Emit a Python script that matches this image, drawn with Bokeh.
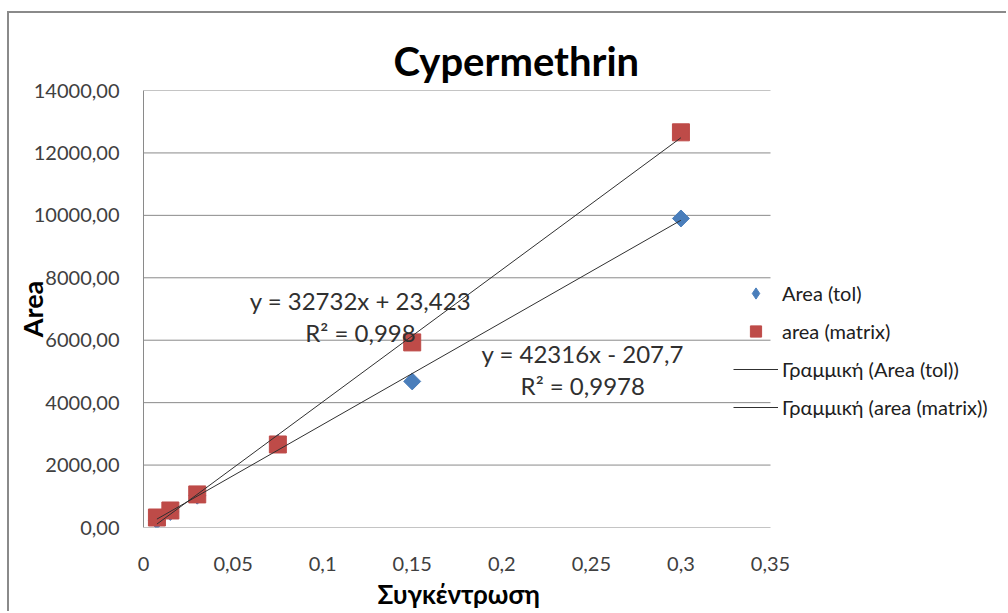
from bokeh.plotting import figure
from bokeh.models import (FixedTicker, Label, Legend, LegendItem, Range1d, Title)
from bokeh.embed import file_html
from bokeh.resources import INLINE
import math

# ---- data ----
concentration = [0.0075, 0.015, 0.03, 0.075, 0.15, 0.3]
area_tol = [230, 500, 1020, 2700, 4680, 9900]
area_matrix = [320, 545, 1060, 2660, 5930, 12660]

fit_tol = (32732, 23.423)
fit_matrix = (42316, -207.7)

x_ticks = [0, 0.05, 0.1, 0.15, 0.2, 0.25, 0.3, 0.35]
x_tick_labels = ["0", "0,05", "0,1", "0,15", "0,2", "0,25", "0,3", "0,35"]
y_ticks = [0, 2000, 4000, 6000, 8000, 10000, 12000, 14000]
y_tick_labels = ["0,00", "2000,00", "4000,00", "6000,00", "8000,00",
                 "10000,00", "12000,00", "14000,00"]

title_text = "Cypermethrin"
x_label = "Συγκέντρωση"
y_label = "Area"
eq_tol = ["y = 32732x + 23,423", "R² = 0,998"]
eq_matrix = ["y = 42316x - 207,7", "R² = 0,9978"]
legend_labels = ["Area (tol)", "area (matrix)",
                 "Γραμμική (Area (tol))", "Γραμμική (area (matrix))"]

FONT = "Lato"
MX, MY = 7, 11           # outer chart border offset in the picture
W, H = 1008 - MX - 2, 613 - MY - 2
ox, oy = MX + 2, MY + 2  # figure content origin in the picture
FL, FR, FT, FB = 143, 770, 90, 527   # plot-area edges in the picture
X_MAX = 0.35
frame_w = (ox + W) - FL
x_end = X_MAX * frame_w / (FR - FL)   # frame runs on to the right edge for the legend

p = figure(width=W, height=H, output_backend="svg", toolbar_location=None,
           x_range=Range1d(0, x_end), y_range=Range1d(0, 14000),
           min_border_left=FL - ox, min_border_top=FT - oy,
           min_border_right=0, min_border_bottom=(oy + H) - FB)
p.styles = {"border-left": "2px solid #8a8a8a", "border-top": "2px solid #8a8a8a",
            "margin-left": f"{MX}px", "margin-top": f"{MY}px"}
p.outline_line_color = None
p.background_fill_color = "white"
p.border_fill_color = "white"

# title
p.title.text = title_text
p.title.align = "left"
p.title.offset = 393 - FL
p.title.text_font = FONT
p.title.text_font_size = "40px"
p.title.text_font_style = "bold"
p.title.text_color = "black"
p.title.standoff = 12

# axes
for ax in (p.xaxis[0], p.yaxis[0]):
    ax.major_tick_line_color = None
    ax.minor_tick_line_color = None
    ax.major_label_text_font = FONT
    ax.major_label_text_font_size = "20px"
    ax.major_label_text_color = "#404040"
p.xaxis[0].axis_line_color = None
p.yaxis[0].axis_line_color = "#8a8a8a"
p.xaxis[0].ticker = FixedTicker(ticks=x_ticks)
p.xaxis[0].major_label_overrides = {t: l for t, l in zip(x_ticks, x_tick_labels)}
p.xaxis[0].major_label_standoff = 23
p.yaxis[0].ticker = FixedTicker(ticks=y_ticks)
p.yaxis[0].major_label_overrides = {t: l for t, l in zip(y_ticks, y_tick_labels)}
p.yaxis[0].major_label_standoff = 18
p.yaxis[0].axis_label = y_label
p.yaxis[0].axis_label_text_font = FONT
p.yaxis[0].axis_label_text_font_size = "27px"
p.yaxis[0].axis_label_text_font_style = "bold"
p.yaxis[0].axis_label_text_color = "black"
p.yaxis[0].axis_label_standoff = -18

p.add_layout(Title(text=x_label, align="left", offset=377 - FL, text_font=FONT,
                   text_font_size="26px", text_font_style="bold", text_color="black",
                   standoff=5), "below")

# grid lines limited to the plot area
p.xgrid.visible = False
p.ygrid.visible = False
p.segment(x0=[0] * len(y_ticks), x1=[X_MAX] * len(y_ticks), y0=y_ticks, y1=y_ticks,
          line_color="#8a8a8a", line_width=1)

# markers
r_tol = p.scatter(concentration, area_tol, marker="square", angle=math.pi / 4,
                  size=12, fill_color="#4a7ebb", line_color="#4a7ebb")
r_mat = p.scatter(concentration, area_matrix, marker="square", size=17,
                  fill_color="#be4b48", line_color="#be4b48")
# legend-only diamond for the tol series (hidden in the plot)
r_tol_leg = p.scatter(concentration, area_tol, marker="diamond", size=12,
                      fill_color="#4a7ebb", line_color="#4a7ebb", visible=False)

# trendlines
x0, x1 = min(concentration), max(concentration)
l_tol = p.line([x0, x1], [fit_tol[0] * x0 + fit_tol[1], fit_tol[0] * x1 + fit_tol[1]],
               line_color="#303030", line_width=1)
l_mat = p.line([x0, x1], [fit_matrix[0] * x0 + fit_matrix[1], fit_matrix[0] * x1 + fit_matrix[1]],
               line_color="#303030", line_width=1)

legend = Legend(items=[LegendItem(label=legend_labels[0], renderers=[r_tol_leg]),
                       LegendItem(label=legend_labels[1], renderers=[r_mat]),
                       LegendItem(label=legend_labels[2], renderers=[l_tol]),
                       LegendItem(label=legend_labels[3], renderers=[l_mat])],
                location=(733 - FL, FB - 421), glyph_width=45, glyph_height=28,
                label_height=28, spacing=10, label_standoff=4, padding=0, margin=0,
                border_line_color=None, background_fill_alpha=0,
                label_text_font=FONT, label_text_font_size="20px",
                label_text_color="#202020")
p.add_layout(legend, "center")


def lab(x, y, text, size, color="#303030"):
    p.add_layout(Label(x=x, y=y, text=text, text_font=FONT, text_font_size=size,
                       text_align="center", text_baseline="middle", text_color=color))


lab(0.1211, 7272, eq_tol[0], "24px")
lab(0.1211, 6247, eq_tol[1], "24px")
lab(0.2452, 5574, eq_matrix[0], "24px")
lab(0.2452, 4549, eq_matrix[1], "24px")

open("out.html", "w").write(file_html(p, INLINE))
